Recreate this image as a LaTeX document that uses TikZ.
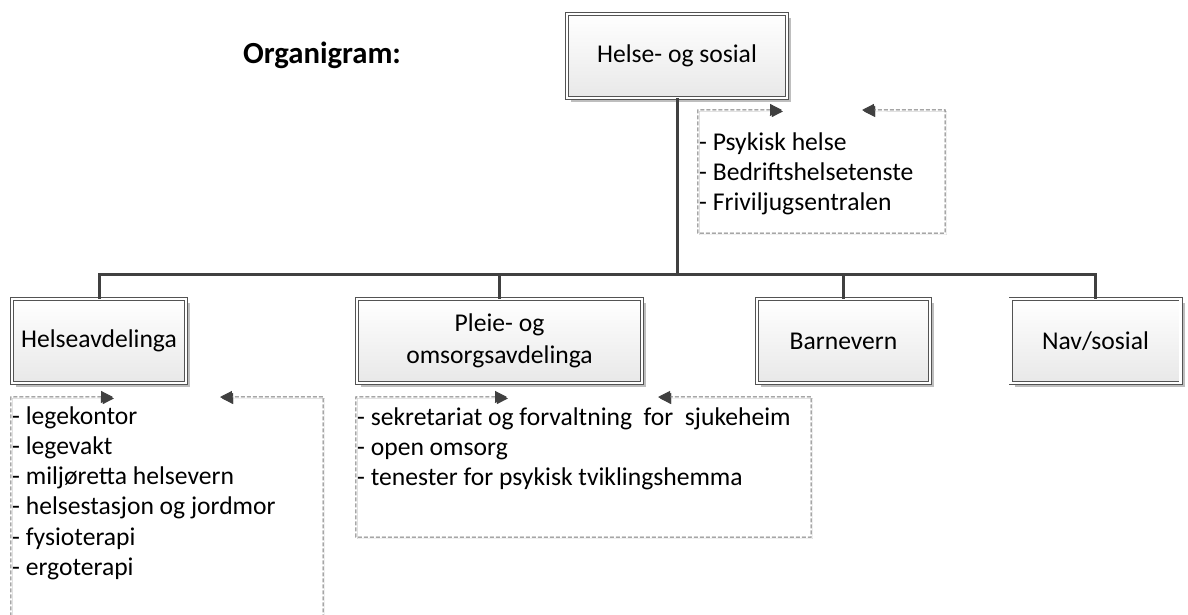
\documentclass[tikz,border=0pt]{standalone}
\usepackage{fontspec}
\setmainfont{Carlito}
\usetikzlibrary{arrows.meta,shadows}
\definecolor{orgDark}{RGB}{64,64,64}
\definecolor{orgLine}{RGB}{118,118,118}
\definecolor{orgShadow}{RGB}{190,190,190}
\definecolor{orgFill}{RGB}{232,232,232}

\begin{document}
\begin{tikzpicture}[x=1pt, y=-1pt, font=\fontsize{25.6}{30.3}\selectfont,
    unitbox/.style={draw=orgDark!90, line width=.9pt, double=white, double distance=2.2pt,
        top color=white, bottom color=orgFill, minimum height=84pt, inner sep=0pt, align=center,
        drop shadow={shadow xshift=4pt, shadow yshift=-4pt, fill=orgShadow, opacity=1}},
    treeline/.style={orgDark, line width=3pt},
    grpbox/.style={inner sep=0pt},
    listtext/.style={anchor=base west, inner sep=0pt, align=left},
    dashframe/.style={draw=orgLine, line width=1pt, dash pattern=on 4pt off 2pt,
        {Triangle[length=12pt,width=12pt,color=orgDark]}-{Triangle[length=12pt,width=12pt,color=orgDark]},
        preaction={draw=orgShadow!70, transform canvas={shift={(1.5pt,-1.5pt)}}}}]

\useasboundingbox (0,0) rectangle (1188,614);
\clip (0,0) rectangle (1188,614);

% Title
\node (title) at (322,55) {\fontsize{30.7}{36}\selectfont\bfseries Organigram:};

% Units
\node (hs) [unitbox, minimum width=220pt] at (677,56) {Helse- og sosial};
\node (ha) [unitbox, minimum width=174pt] at (99,341) {Helseavdelinga};
\node (po) [unitbox, minimum width=285pt] at (499.5,341) {Pleie- og\\[2pt]omsorgsavdelinga};
\node (bv) [unitbox, minimum width=173pt] at (843.5,341) {Barnevern};
\node (nav) [unitbox, minimum width=170pt] at (1095.5,341) {Nav/sosial};

% Tree
\coordinate (bus) at (677,274);
\draw [treeline] (hs.south) -- (bus);
\foreach \n in {ha,po,bv,nav} {
    \draw [treeline] (\n.north) |- (bus);
}

% Staff under Helse- og sosial (base = last line)
\node (hsgrp) [grpbox, minimum width=247pt, minimum height=123pt] at (821.5,171.5) {};
\coordinate (hsA) at (782,110);
\coordinate (hsB) at (862,110);
\draw [dashframe] (hsA) -- (hsgrp.north west) -- (hsgrp.south west) -- (hsgrp.south east) -- (hsgrp.north east) -- (hsB);
\node (hsitems) [listtext] at (699,210.6) {- Psykisk helse\\- Bedriftshelsetenste\\- Friviljugsentralen};

% Helseavdelinga
\node (hagrp) [grpbox, minimum width=312pt, minimum height=233pt] at (167,513.5) {};
\coordinate (haA) at (113,397);
\coordinate (haB) at (220,397);
\draw [dashframe] (haA) -- (hagrp.north west) -- (hagrp.south west) -- (hagrp.south east) -- (hagrp.north east) -- (haB);
\node (haitems) [listtext] at (12,575.5) {- legekontor\\- legevakt\\- milj\o retta helsevern\\- helsestasjon og jordmor\\- fysioterapi\\- ergoterapi};

% Pleie- og omsorgsavdelinga
\node (pogrp) [grpbox, minimum width=455pt, minimum height=140pt] at (583.5,467) {};
\coordinate (poA) at (507,397);
\coordinate (poB) at (658,397);
\draw [dashframe] (poA) -- (pogrp.north west) -- (pogrp.south west) -- (pogrp.south east) -- (pogrp.north east) -- (poB);
\node (poitems) [listtext] at (357,485.6) {- sekretariat og forvaltning\ \ for\ \ sjukeheim\\- open omsorg\\- tenester for psykisk tviklingshemma};

\end{tikzpicture}
\end{document}
